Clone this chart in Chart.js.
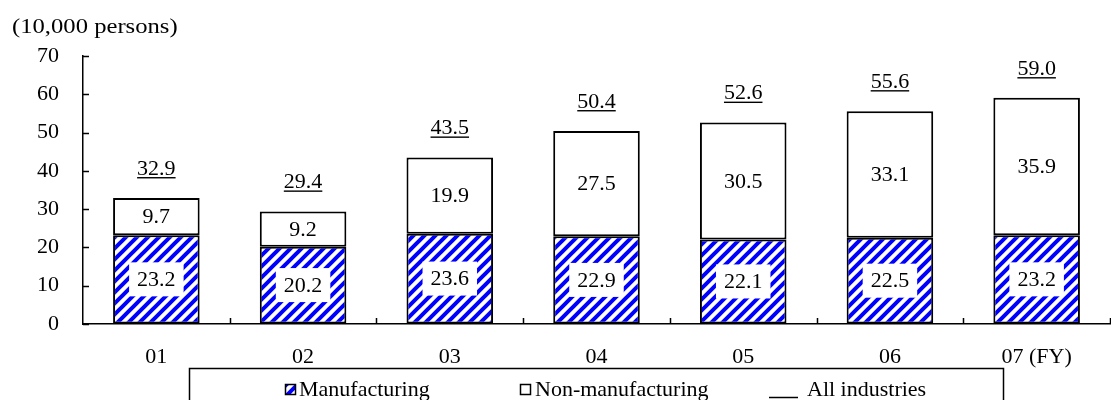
<!DOCTYPE html>
<html>
<head>
<meta charset="utf-8">
<script src="https://cdn.jsdelivr.net/npm/chart.js@4.4.1/dist/chart.umd.min.js"></script>
<style>
  body{margin:0;background:#fff;}
  #wrap{width:1111px;height:400px;position:relative;}
</style>
</head>
<body>
<div id="wrap"><canvas id="empChart"></canvas></div>
<script>
const years = ["01","02","03","04","05","06","07 (FY)"];
const manufacturing = [23.2,20.2,23.6,22.9,22.1,22.5,23.2];
const nonManufacturing = [9.7,9.2,19.9,27.5,30.5,33.1,35.9];
const allIndustries = [32.9,29.4,43.5,50.4,52.6,55.6,59.0];
const yTicks = [0,10,20,30,40,50,60,70];
const unitLabel = "(10,000 persons)";

const FONT = "Liberation Serif";
const FS = 22;

// blue diagonal hatch for manufacturing
function makeHatch(){
  const s = 11;
  const c = document.createElement("canvas");
  c.width = s; c.height = s;
  const g = c.getContext("2d");
  g.fillStyle = "#fff";
  g.fillRect(0,0,s,s);
  g.strokeStyle = "#0000ff";
  g.lineWidth = 4;
  g.beginPath();
  g.moveTo(-2,2); g.lineTo(2,-2);
  g.moveTo(-1,s+1); g.lineTo(s+1,-1);
  g.moveTo(s-2,s+2); g.lineTo(s+2,s-2);
  g.stroke();
  return c;
}
const hatchCanvas = makeHatch();
const ctx0 = document.getElementById("empChart").getContext("2d");
const hatch = ctx0.createPattern(hatchCanvas,"repeat");

const extras = {
  id:"extras",
  afterDatasetsDraw(chart){
    const ctx = chart.ctx;
    const ys = chart.scales.y;
    const area = chart.chartArea;
    ctx.save();
    ctx.strokeStyle = "#000";
    ctx.lineWidth = 1.5;
    // inward ticks
    ctx.beginPath();
    yTicks.forEach(v=>{
      const y = Math.round(ys.getPixelForValue(v))+0.5;
      ctx.moveTo(area.left, y); ctx.lineTo(area.left+6, y);
    });
    const catW = (area.right-area.left)/years.length;
    for(let i=1;i<=years.length;i++){
      const x = Math.round(area.left+i*catW)+0.5;
      ctx.moveTo(x, area.bottom); ctx.lineTo(x, area.bottom-6);
    }
    ctx.stroke();

    ctx.font = FS+"px '"+FONT+"'";
    ctx.fillStyle = "#000";
    ctx.textAlign = "center";
    ctx.textBaseline = "middle";
    const m0 = chart.getDatasetMeta(0), m1 = chart.getDatasetMeta(1);
    years.forEach((yr,i)=>{
      const b0 = m0.data[i], b1 = m1.data[i];
      // manufacturing label on white box
      const t0 = manufacturing[i].toFixed(1);
      const cy0 = (b0.y+b0.base)/2;
      const w0 = ctx.measureText(t0).width;
      ctx.fillStyle = "#fff";
      ctx.fillRect(b0.x-w0/2-8, cy0-17, w0+16, 34);
      ctx.fillStyle = "#000";
      ctx.fillText(t0, b0.x, cy0+1);
      // non-manufacturing label
      const cy1 = (b1.y+b1.base)/2;
      ctx.fillText(nonManufacturing[i].toFixed(1), b1.x, cy1+1);
      // total, underlined
      const t2 = allIndustries[i].toFixed(1);
      const ty = ys.getPixelForValue(allIndustries[i]) - 29;
      ctx.fillText(t2, b1.x, ty);
      const w2 = ctx.measureText(t2).width;
      ctx.fillRect(b1.x-w2/2, ty+8, w2, 1.4);
    });

    // unit label (a bit wider in the original)
    ctx.textAlign = "left";
    ctx.save();
    ctx.translate(12, 27);
    ctx.scale(1.12, 1);
    ctx.fillText(unitLabel, 0, 0);
    ctx.restore();

    // legend
    ctx.lineWidth = 1.5;
    ctx.strokeRect(189.5, 368.5, 814, 40);
    ctx.fillStyle = hatch;
    ctx.fillRect(285, 384, 10, 10);
    ctx.strokeRect(285.5, 384.5, 10, 10);
    ctx.fillStyle = "#fff";
    ctx.fillRect(520, 384, 10, 10);
    ctx.strokeRect(520.5, 384.5, 10, 10);
    ctx.beginPath();
    ctx.moveTo(769, 397.5); ctx.lineTo(798, 397.5);
    ctx.stroke();
    ctx.fillStyle = "#000";
    ctx.fillText("Manufacturing", 299, 390);
    ctx.fillText("Non-manufacturing", 535, 390);
    ctx.fillText("All industries", 807, 390);
    ctx.restore();
  }
};

new Chart(ctx0,{
  type:"bar",
  data:{
    labels:years,
    datasets:[
      {label:"Manufacturing",data:manufacturing,backgroundColor:hatch,borderColor:"#000",borderWidth:2,borderSkipped:false},
      {label:"Non-manufacturing",data:nonManufacturing,backgroundColor:"#fff",borderColor:"#000",borderWidth:2,borderSkipped:false}
    ]
  },
  options:{
    responsive:true,
    maintainAspectRatio:false,
    animation:false,
    layout:{padding:{top:56,right:1,left:0,bottom:0}},
    datasets:{bar:{categoryPercentage:1,barPercentage:0.59}},
    plugins:{legend:{display:false},tooltip:{enabled:false}},
    scales:{
      x:{
        stacked:true,
        grid:{drawOnChartArea:false,drawTicks:false},
        border:{display:true,color:"#000",width:1.5},
        ticks:{color:"#000",font:{family:FONT,size:FS},padding:20,maxRotation:0},
        afterFit(s){ s.height = 76; }
      },
      y:{
        stacked:true,
        min:0,max:70,
        grid:{drawOnChartArea:false,drawTicks:false},
        border:{display:true,color:"#000",width:1.5},
        ticks:{color:"#000",font:{family:FONT,size:FS},padding:24,stepSize:10},
        afterFit(s){ s.width = 83; }
      }
    }
  },
  plugins:[extras]
});
</script>
</body>
</html>
